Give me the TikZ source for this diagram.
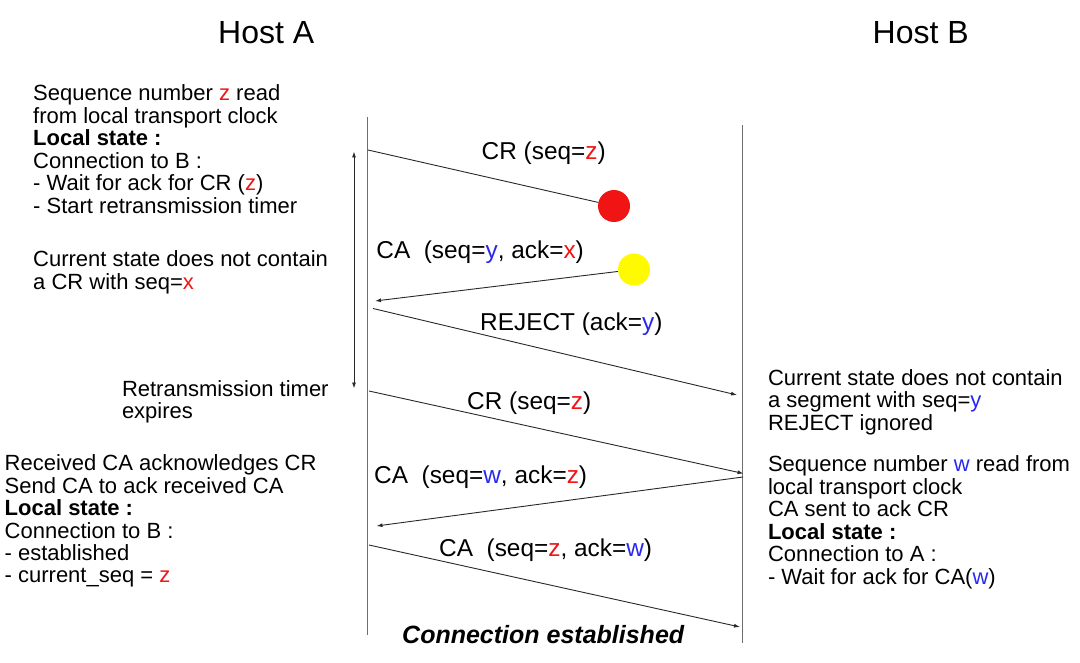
\documentclass[tikz,border=0pt]{standalone}
\usepackage{fontspec}
\setmainfont{Liberation Sans}
\usetikzlibrary{arrows.meta}
\definecolor{zred}{RGB}{240,20,20}
\definecolor{zblue}{RGB}{40,40,240}
\definecolor{tlcol}{RGB}{110,110,110}
\definecolor{msgcol}{RGB}{40,40,40}
\definecolor{dotyellow}{RGB}{255,250,0}
\newcommand{\zr}[1]{\textcolor{zred}{#1}}
\newcommand{\zb}[1]{\textcolor{zblue}{#1}}
\newcommand{\blk}[1]{\begin{tabular}[t]{@{}l@{}}#1\end{tabular}}
\begin{document}
\begin{tikzpicture}[x=1pt,y=-1pt,
  body/.style={anchor=base west, inner sep=0pt, font=\fontsize{22}{22}\selectfont},
  msglabel/.style={anchor=base west, inner sep=0pt, font=\fontsize{24.4}{26}\selectfont},
  host/.style={anchor=base west, inner sep=0pt, font=\fontsize{32}{36}\selectfont},
  timeline/.style={draw=tlcol, line width=1.3pt},
  msg/.style={draw=msgcol, line width=0.9pt},
  msgarrow/.style={msg, -{Latex[length=6pt,width=4pt]}},
  timerarrow/.style={draw=msgcol, line width=0.9pt, {Latex[length=6pt,width=4pt]}-{Latex[length=6pt,width=4pt]}},
  dot/.style={circle, minimum size=32pt, inner sep=0pt}]
\useasboundingbox (0,0) rectangle (1080,663);

% hosts
\node[host] (hostA) at (218,43.3) {Host A};
\node[host] (hostB) at (872.5,43.3) {Host B};

% timelines
\coordinate (At) at (367.5,117);
\coordinate (Ab) at (367.5,635);
\coordinate (Bt) at (742.3,125);
\coordinate (Bb) at (742.3,643);
\draw[timeline] (At) -- (Ab);
\draw[timeline] (Bt) -- (Bb);

% timer
\coordinate (Tt) at (354,151.5);
\coordinate (Tb) at (354,388.5);
\draw[timerarrow] (Tt) -- (Tb);

% lost CR
\coordinate (m1s) at (368,150);
\node[dot, fill=zred] (lost) at (614,206) {};
\draw[msg] (m1s) -- (lost);
\node[msglabel] (l1) at (481.5,160) {CR (seq=\zr{z})};

% old duplicate CA
\node[dot, fill=dotyellow] (dup) at (634,269.5) {};
\coordinate (m2e) at (375,301);
\draw[msgarrow] (dup) -- (m2e);
\node[msglabel] (l2) at (376.2,258.3) {CA\ \ (seq=\zb{y}, ack=\zr{x})};

% REJECT
\coordinate (m3s) at (373,308.5);
\coordinate (m3e) at (737,395);
\draw[msgarrow] (m3s) -- (m3e);
\node[msglabel] (l3) at (480,330.7) {REJECT (ack=\zb{y})};

% CR retransmitted
\coordinate (m4s) at (369,391);
\coordinate (m4e) at (743.5,473.5);
\draw[msgarrow] (m4s) -- (m4e);
\node[msglabel] (l4) at (467,409) {CR (seq=\zr{z})};

% CA from B
\coordinate (m5s) at (743,477);
\coordinate (m5e) at (376.5,526);
\draw[msgarrow] (m5s) -- (m5e);
\node[msglabel] (l5) at (374,483.3) {CA\ \ (seq=\zb{w}, ack=\zr{z})};

% CA from A
\coordinate (m6s) at (369,545);
\coordinate (m6e) at (740,627);
\draw[msgarrow] (m6s) -- (m6e);
\node[msglabel] (l6) at (439,556.7) {CA\ \ (seq=\zr{z}, ack=\zb{w})};

% host A texts
\node[body] (tA1) at (33,100.7) {\blk{Sequence number \zr{z} read\\
from local transport clock\\
\textbf{Local state :}\\
Connection to B :\\
- Wait for ack for CR (\zr{z})\\
- Start retransmission timer}};
\node[body] (tA2) at (33,266.7) {\blk{Current state does not contain\\
a CR with seq=\zr{x}}};
\node[body] (tA3) at (121.8,396) {\blk{Retransmission timer\\
expires}};
\node[body] (tA4) at (4.5,470.7) {\blk{Received CA acknowledges CR\\
Send CA to ack received CA\\
\textbf{Local state :}\\
Connection to B :\\
- established\\
- current\_seq = \zr{z}}};

% host B texts
\node[body] (tB1) at (767.8,385) {\blk{Current state does not contain\\
a segment with seq=\zb{y}\\
REJECT ignored}};
\node[body] (tB2) at (767.8,471.7) {\blk{Sequence number \zb{w} read from\\
local transport clock\\
CA sent to ack CR\\
\textbf{Local state :}\\
Connection to A :\\
- Wait for ack for CA(\zb{w})}};

% bottom
\node[anchor=base west, inner sep=0pt, font=\fontsize{25}{28}\selectfont\bfseries\itshape] (est) at (402,643.3) {Connection established};
\end{tikzpicture}
\end{document}
